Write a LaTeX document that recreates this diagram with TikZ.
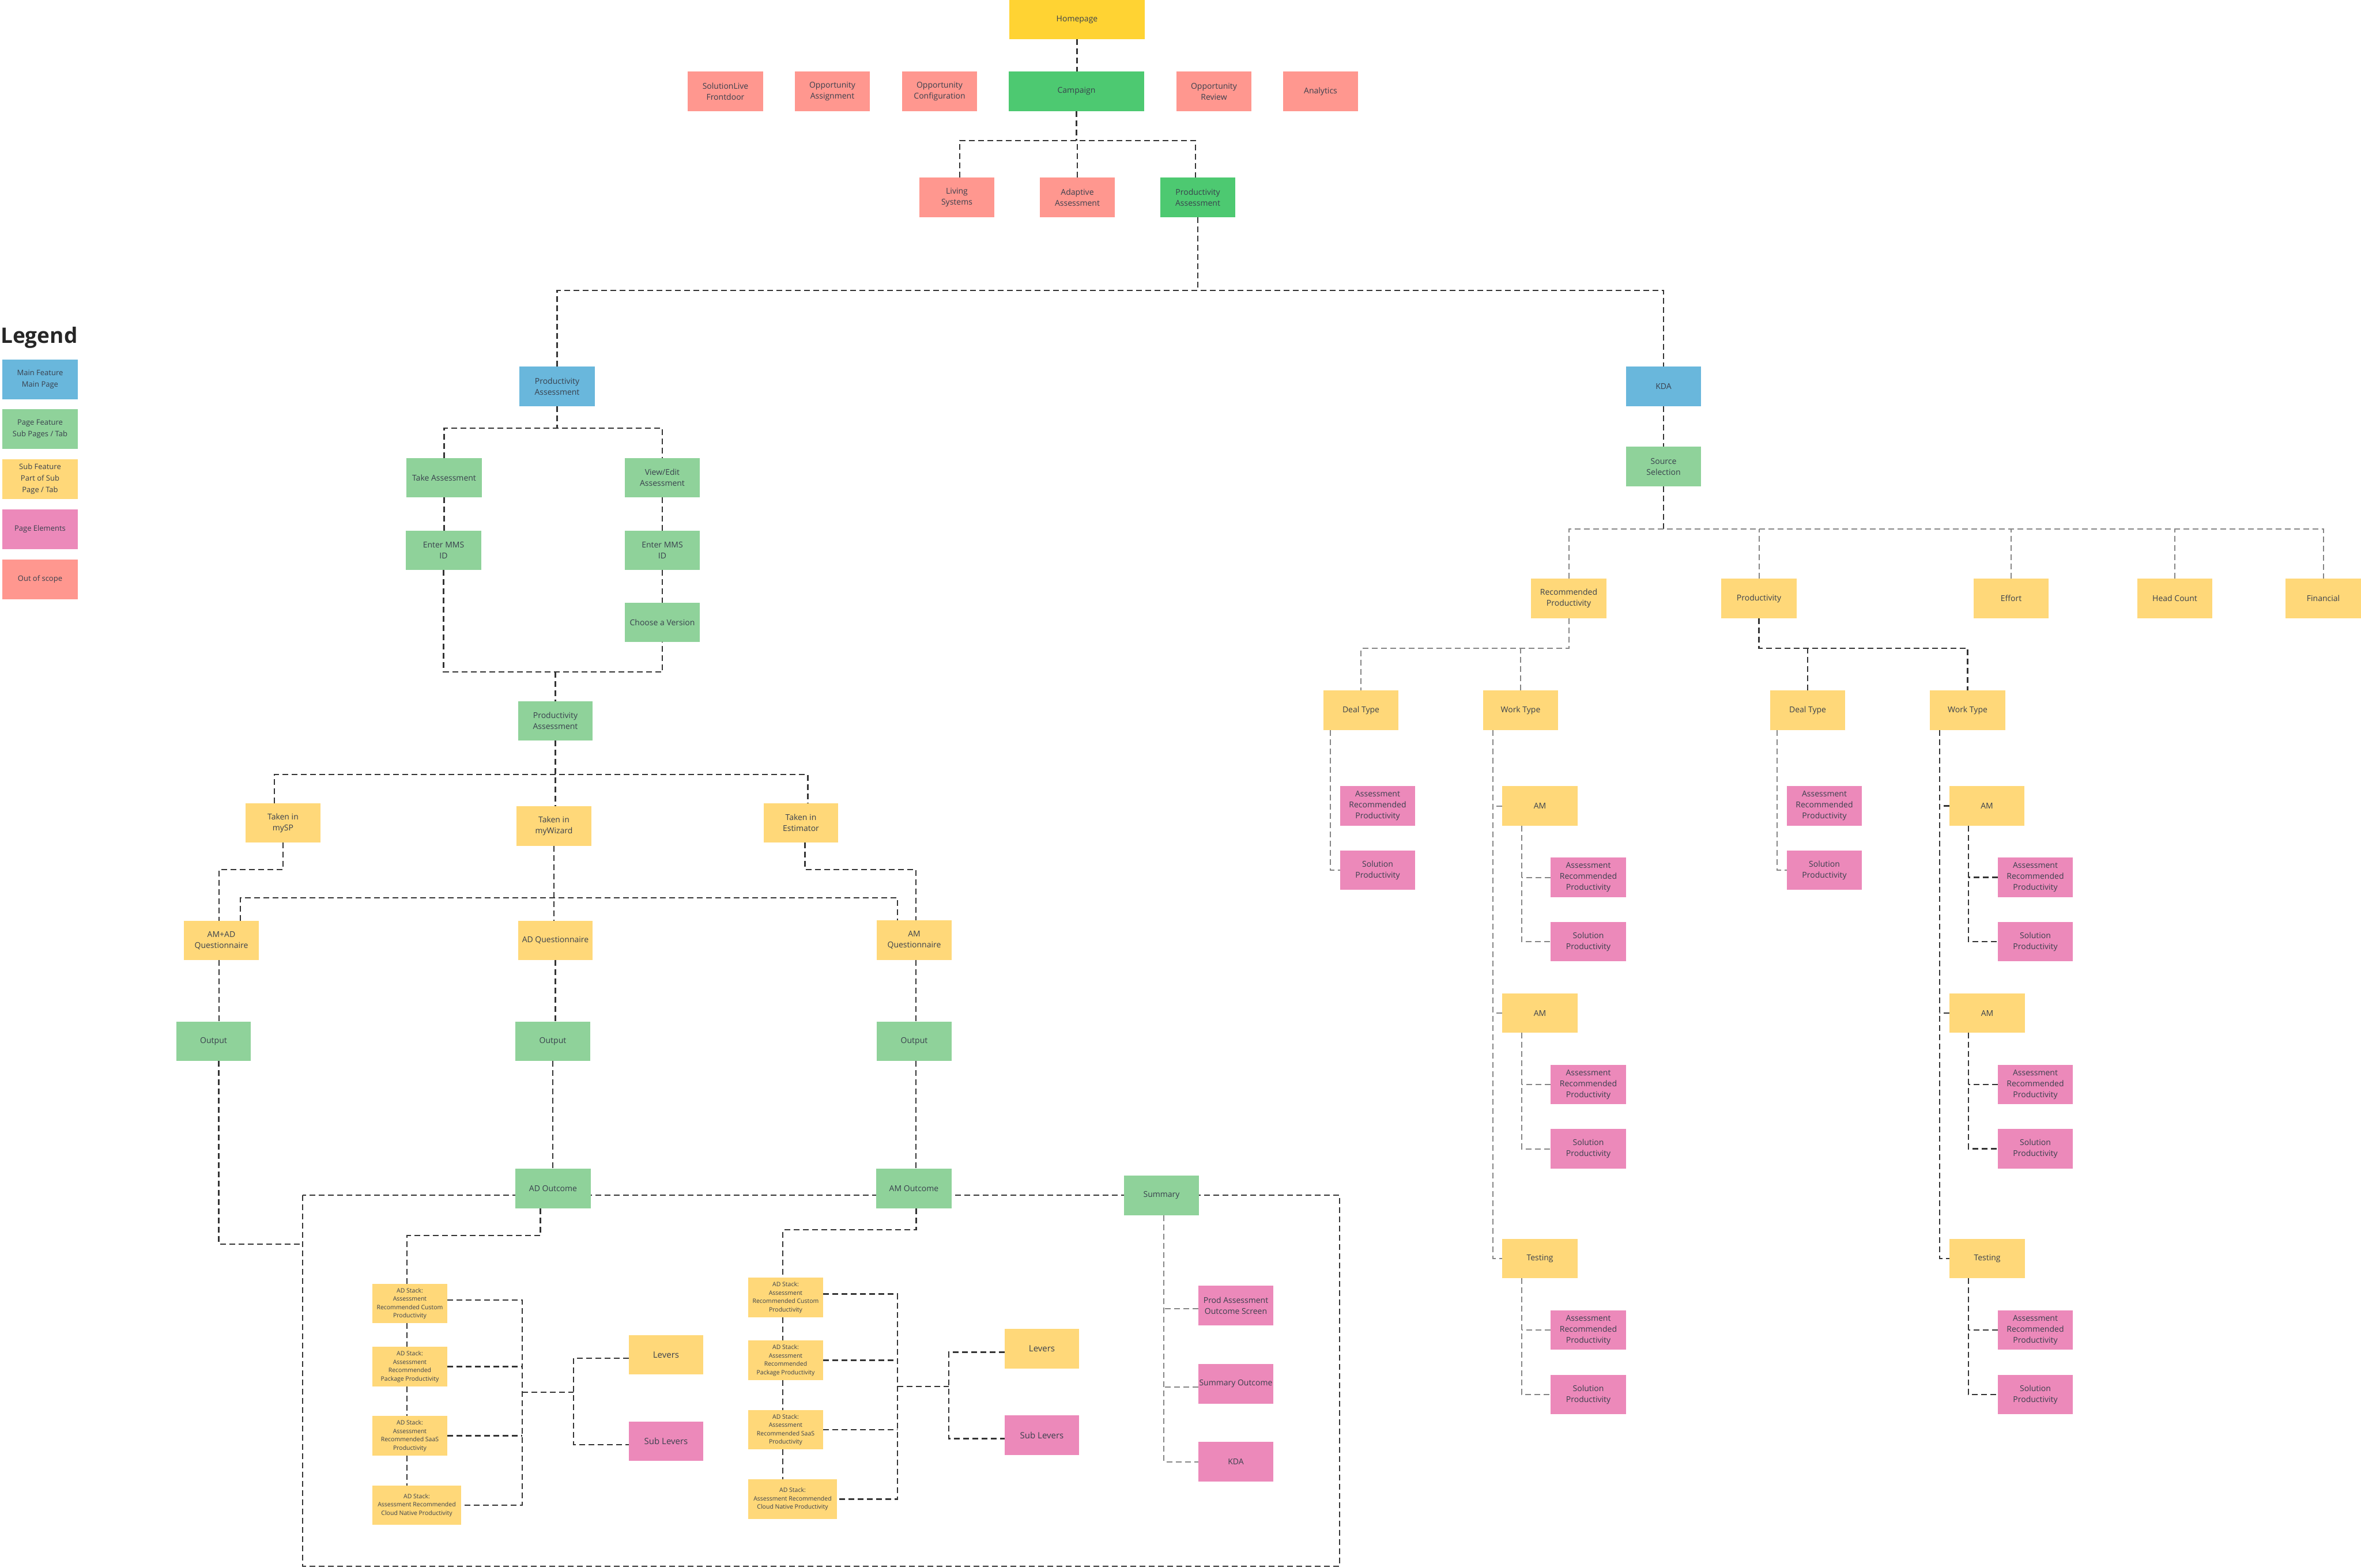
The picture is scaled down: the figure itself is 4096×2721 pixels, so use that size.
\documentclass[tikz,border=0pt]{standalone}
\usepackage{fontspec}
\setmainfont{Open Sans}
\definecolor{txt}{HTML}{39404D}
\definecolor{cHome}{HTML}{FFD333}
\definecolor{cSal}{HTML}{FF978F}
\definecolor{cGrn}{HTML}{4DC971}
\definecolor{cLg}{HTML}{8FD29A}
\definecolor{cBlu}{HTML}{69B7DC}
\definecolor{cYel}{HTML}{FFD879}
\definecolor{cPnk}{HTML}{EC89BA}
\definecolor{lnk}{HTML}{333333}
\definecolor{lgr}{HTML}{858585}
\tikzset{
  box/.style={inner sep=0pt, outer sep=0pt, align=center, text=txt, font=\fontsize{14}{19}\selectfont},
  smtext/.style={font=\fontsize{10.5}{14.5}\selectfont},
  lgtext/.style={font=\fontsize{13}{20}\selectfont},
  bigtext/.style={font=\fontsize{15}{20}\selectfont},
  hom/.style={fill=cHome}, sal/.style={fill=cSal}, grn/.style={fill=cGrn},
  lgr/.style={fill=cLg}, blu/.style={fill=cBlu}, yel/.style={fill=cYel}, pnk/.style={fill=cPnk},
  conn/.style={draw=lnk, line width=2.4pt, dash pattern=on 10pt off 6pt},
  connl/.style={draw=lgr, line width=2pt, dash pattern=on 10pt off 6pt},
}
\newcommand{\bx}[7]{\node[box,#2,minimum width={(#5)-(#3)},minimum height={(#6)-(#4)}] (#1) at ({((#3)+(#5))/2},{((#4)+(#6))/2}) {#7};}
\begin{document}
\begin{tikzpicture}[x=1pt,y=-1pt]
\fill[white] (0,0) rectangle (4096,2721);
\useasboundingbox (0,0) rectangle (4096,2721);
% junction rows
\coordinate (J1) at (0,244);
\coordinate (J2) at (0,504);
\coordinate (J3) at (0,743);
\coordinate (J4) at (0,1166);
\coordinate (J5) at (0,1344);
\coordinate (J6) at (0,1509);
\coordinate (J7) at (0,1558);
\coordinate (J9) at (0,2144);
\coordinate (J10) at (0,2134);
\coordinate (J11) at (0,918);
\coordinate (J12) at (0,1125);
\coordinate (RL) at (525,2159);
\coordinate (RTL) at (525,2074);
\coordinate (RBR) at (2324,2718);
\coordinate (B1) at (906,0);
\coordinate (M1) at (995,2416);
\coordinate (B2) at (1557,0);
\coordinate (M2) at (1646,2406);
% outcome frame
\draw[conn] (RTL) rectangle (RBR);

% legend
\node[anchor=west, inner sep=0pt, text=black!85, font=\fontsize{37}{40}\selectfont\bfseries] (legend) at (1,586) {Legend};
\bx{lg1}{blu,lgtext}{4}{624}{135}{693}{Main Feature\\Main Page}
\bx{lg2}{lgr,lgtext}{4}{710}{135}{779}{Page Feature\\Sub Pages / Tab}
\bx{lg3}{yel,lgtext}{4}{797}{135}{866}{Sub Feature\\Part of Sub\\Page / Tab}
\bx{lg4}{pnk,lgtext}{4}{884}{135}{953}{Page Elements}
\bx{lg5}{sal,lgtext}{4}{971}{135}{1040}{Out of scope}

% top
\bx{home}{hom}{1751}{0}{1986}{68}{Homepage}
\bx{slf}{sal}{1193}{124}{1324}{193}{SolutionLive\\Frontdoor}
\bx{oa}{sal}{1379}{124}{1509}{193}{Opportunity\\Assignment}
\bx{oc}{sal}{1565}{124}{1695}{193}{Opportunity\\Configuration}
\bx{camp}{grn}{1750}{124}{1985}{193}{Campaign}
\bx{orv}{sal}{2041}{124}{2171}{193}{Opportunity\\Review}
\bx{ana}{sal}{2226}{124}{2356}{193}{Analytics}
\bx{ls}{sal}{1595}{308}{1725}{377}{Living\\Systems}
\bx{aa}{sal}{1804}{308}{1934}{377}{Adaptive\\Assessment}
\bx{pa0}{grn}{2013}{308}{2143}{377}{Productivity\\Assessment}

% left tree
\bx{pa1}{blu}{901}{636}{1032}{705}{Productivity\\Assessment}
\bx{take}{lgr}{705}{795}{836}{863}{Take Assessment}
\bx{view}{lgr}{1084}{795}{1214}{863}{View/Edit\\Assessment}
\bx{mms1}{lgr}{704}{921}{835}{989}{Enter MMS\\ID}
\bx{mms2}{lgr}{1084}{921}{1214}{989}{Enter MMS\\ID}
\bx{choose}{lgr}{1084}{1046}{1214}{1114}{Choose a Version}
\bx{pag}{lgr}{899}{1217}{1028}{1285}{Productivity\\Assessment}
\bx{mysp}{yel}{426}{1394}{556}{1462}{Taken in\\mySP}
\bx{wiz}{yel}{896}{1399}{1026}{1468}{Taken in\\myWizard}
\bx{est}{yel}{1325}{1394}{1454}{1462}{Taken in\\Estimator}
\bx{amad}{yel}{319}{1598}{449}{1666}{AM+AD\\Questionnaire}
\bx{adq}{yel}{899}{1598}{1028}{1666}{AD Questionnaire}
\bx{amq}{yel}{1521}{1597}{1651}{1666}{AM\\Questionnaire}
\bx{outL}{lgr}{306}{1773}{435}{1841}{Output}
\bx{outM}{lgr}{894}{1773}{1024}{1841}{Output}
\bx{outR}{lgr}{1521}{1773}{1651}{1841}{Output}
\bx{ado}{lgr}{894}{2028}{1025}{2097}{AD Outcome}
\bx{amo}{lgr}{1520}{2028}{1651}{2097}{AM Outcome}
\bx{sum}{lgr}{1950}{2040}{2080}{2109}{Summary}
\bx{c1}{yel,smtext}{646}{2228}{776}{2296}{AD Stack:\\Assessment\\Recommended Custom\\Productivity}
\bx{p1}{yel,smtext}{646}{2337}{776}{2406}{AD Stack:\\Assessment\\Recommended\\Package Productivity}
\bx{s1}{yel,smtext}{646}{2457}{776}{2526}{AD Stack:\\Assessment\\Recommended SaaS\\Productivity}
\bx{cl1}{yel,smtext}{646}{2578}{800}{2646}{AD Stack:\\Assessment Recommended\\Cloud Native Productivity}
\bx{lev1}{yel,bigtext}{1091}{2317}{1220}{2385}{Levers}
\bx{sub1}{pnk,bigtext}{1091}{2467}{1220}{2535}{Sub Levers}
\bx{c2}{yel,smtext}{1298}{2217}{1428}{2286}{AD Stack:\\Assessment\\Recommended Custom\\Productivity}
\bx{p2}{yel,smtext}{1298}{2326}{1428}{2395}{AD Stack:\\Assessment\\Recommended\\Package Productivity}
\bx{s2}{yel,smtext}{1298}{2447}{1428}{2515}{AD Stack:\\Assessment\\Recommended SaaS\\Productivity}
\bx{cl2}{yel,smtext}{1298}{2567}{1452}{2636}{AD Stack:\\Assessment Recommended\\Cloud Native Productivity}
\bx{lev2}{yel,bigtext}{1743}{2306}{1872}{2375}{Levers}
\bx{sub2}{pnk,bigtext}{1743}{2456}{1872}{2525}{Sub Levers}
\bx{pao}{pnk}{2079}{2231}{2209}{2300}{Prod Assessment\\Outcome Screen}
\bx{so}{pnk}{2079}{2367}{2209}{2436}{Summary Outcome}
\bx{kda2}{pnk}{2079}{2502}{2209}{2571}{KDA}

% right tree
\bx{kda}{blu}{2821}{636}{2951}{705}{KDA}
\bx{ss}{lgr}{2821}{775}{2951}{844}{Source\\Selection}
\bx{rp}{yel}{2656}{1004}{2787}{1073}{Recommended\\Productivity}
\bx{prod}{yel}{2986}{1004}{3117}{1073}{Productivity}
\bx{eff}{yel}{3424}{1004}{3554}{1073}{Effort}
\bx{hc}{yel}{3708}{1004}{3838}{1073}{Head Count}
\bx{fin}{yel}{3965}{1004}{4096}{1073}{Financial}
\bx{dt1}{yel}{2296}{1198}{2426}{1267}{Deal Type}
\bx{wt1}{yel}{2573}{1198}{2703}{1267}{Work Type}
\bx{arpA}{pnk}{2325}{1364}{2455}{1433}{Assessment\\Recommended\\Productivity}
\bx{solA}{pnk}{2325}{1476}{2455}{1544}{Solution\\Productivity}
\bx{am1}{yel}{2606}{1364}{2737}{1433}{AM}
\bx{arpB}{pnk}{2690}{1488}{2821}{1557}{Assessment\\Recommended\\Productivity}
\bx{solB}{pnk}{2690}{1600}{2821}{1668}{Solution\\Productivity}
\bx{am2}{yel}{2606}{1724}{2737}{1792}{AM}
\bx{arpC}{pnk}{2690}{1848}{2821}{1916}{Assessment\\Recommended\\Productivity}
\bx{solC}{pnk}{2690}{1959}{2821}{2028}{Solution\\Productivity}
\bx{test1}{yel}{2606}{2150}{2737}{2218}{Testing}
\bx{arpD}{pnk}{2690}{2274}{2821}{2342}{Assessment\\Recommended\\Productivity}
\bx{solD}{pnk}{2690}{2386}{2821}{2454}{Solution\\Productivity}
\bx{dt2}{yel}{3071}{1198}{3201}{1267}{Deal Type}
\bx{wt2}{yel}{3348}{1198}{3479}{1267}{Work Type}
\bx{arpE}{pnk}{3100}{1364}{3230}{1433}{Assessment\\Recommended\\Productivity}
\bx{solE}{pnk}{3100}{1476}{3230}{1544}{Solution\\Productivity}
\bx{am3}{yel}{3382}{1364}{3512}{1433}{AM}
\bx{arpF}{pnk}{3466}{1488}{3596}{1557}{Assessment\\Recommended\\Productivity}
\bx{solF}{pnk}{3466}{1600}{3596}{1668}{Solution\\Productivity}
\bx{am4}{yel}{3382}{1724}{3513}{1792}{AM}
\bx{arpG}{pnk}{3466}{1848}{3596}{1916}{Assessment\\Recommended\\Productivity}
\bx{solG}{pnk}{3466}{1959}{3596}{2028}{Solution\\Productivity}
\bx{test2}{yel}{3382}{2150}{3513}{2218}{Testing}
\bx{arpH}{pnk}{3466}{2274}{3596}{2342}{Assessment\\Recommended\\Productivity}
\bx{solH}{pnk}{3466}{2386}{3596}{2454}{Solution\\Productivity}

% ---------- connectors ----------
% top
\draw[conn] (home.south) -- (home.south |- camp.north);
\draw[conn] (camp.south) -- (camp.south |- J1);
\draw[conn] ([xshift=5pt]ls.north) |- ([xshift=-4pt]pa0.north |- J1) -- ([xshift=-4pt]pa0.north);
\draw[conn] (aa.north) -- (aa.north |- J1);
\draw[conn] (pa0.south) -- (pa0.south |- J2);
\draw[conn] (pa1.north) |- (kda.north |- J2) -- (kda.north);
% productivity assessment
\draw[conn] (pa1.south) -- (pa1.south |- J3);
\draw[conn] (take.north) |- (view.north |- J3) -- (view.north);
\draw[conn] (take.south) -- (take.south |- mms1.north);
\draw[conn] (view.south) -- (view.south |- mms2.north);
\draw[conn] (mms2.south) -- (mms2.south |- choose.north);
\draw[conn] (mms1.south) |- (choose.south |- J4) -- (choose.south);
\draw[conn] (pag.north |- J4) -- (pag.north);
% taken in
\draw[conn] (pag.south) -- (pag.south |- wiz.north);
\draw[conn] ([xshift=-15pt]mysp.north) |- ([xshift=12pt]est.north |- J5) -- ([xshift=12pt]est.north);
\draw[conn] (mysp.south) |- ([xshift=-4pt]amad.north |- J6) -- ([xshift=-4pt]amad.north);
\draw[conn] ([xshift=7pt]est.south) |- ([xshift=3pt]amq.north |- J6) -- ([xshift=3pt]amq.north);
\draw[conn] (wiz.south) -- (wiz.south |- adq.north);
\draw[conn] ([xshift=33pt]amad.north) |- ([xshift=-29pt]amq.north |- J7) -- ([xshift=-29pt]amq.north);
% outputs
\draw[conn] ([xshift=-4pt]amad.south) -- ([xshift=-4pt]amad.south |- outL.north);
\draw[conn] (adq.south) -- (adq.south |- outM.north);
\draw[conn] ([xshift=3pt]amq.south) -- ([xshift=3pt]amq.south |- outR.north);
\draw[conn] ([xshift=9pt]outL.south) |- (RL);
\draw[conn] (outM.south) -- (outM.south |- ado.north);
\draw[conn] ([xshift=3pt]outR.south) -- ([xshift=3pt]outR.south |- amo.north);
% AD outcome subtree
\draw[conn] ([xshift=-22pt]ado.south) |- ([xshift=-5pt]c1.north |- J9) -- ([xshift=-5pt]c1.north);
\draw[conn] ([xshift=-5pt]c1.south) -- ([xshift=-5pt]c1.south |- p1.north);
\draw[conn] ([xshift=-5pt]p1.south) -- ([xshift=-5pt]p1.south |- s1.north);
\draw[conn] ([xshift=-5pt]s1.south) -- ([xshift=-5pt]s1.south |- cl1.north);
\draw[conn] ([yshift=6pt]c1.east) -| (B1 |- cl1.east) -- (cl1.east);
\draw[conn] (p1.east) -- (p1.east -| B1);
\draw[conn] (s1.east) -- (s1.east -| B1);
\draw[conn] (B1 |- M1) -- (M1);
\draw[conn] ([yshift=-6pt]lev1.west) -| (M1) |- ([yshift=-6pt]sub1.west);
% AM outcome subtree
\draw[conn] ([xshift=4pt]amo.south) |- ([xshift=-5pt]c2.north |- J10) -- ([xshift=-5pt]c2.north);
\draw[conn] ([xshift=-5pt]c2.south) -- ([xshift=-5pt]c2.south |- p2.north);
\draw[conn] ([xshift=-5pt]p2.south) -- ([xshift=-5pt]p2.south |- s2.north);
\draw[conn] ([xshift=-5pt]s2.south) -- ([xshift=-5pt]s2.south |- cl2.north);
\draw[conn] ([yshift=6pt]c2.east) -| (B2 |- cl2.east) -- (cl2.east);
\draw[conn] (p2.east) -- (p2.east -| B2);
\draw[conn] (s2.east) -- (s2.east -| B2);
\draw[conn] (B2 |- M2) -- (M2);
\draw[conn] ([yshift=-6pt]lev2.west) -| (M2) |- ([yshift=-6pt]sub2.west);
% summary
\coordinate (SL) at ([xshift=4pt]sum.south);
\draw[connl] (SL) |- (kda2.west);
\draw[connl] ([yshift=-5pt]pao.west) -- ([yshift=-5pt]pao.west -| SL);
\draw[connl] ([yshift=-5pt]so.west) -- ([yshift=-5pt]so.west -| SL);
% KDA
\draw[conn] (kda.south) -- (kda.south |- ss.north);
\draw[conn] (ss.south) -- (ss.south |- J11);
\draw[connl] (rp.north) |- (fin.north |- J11) -- (fin.north);
\draw[connl] (prod.north) -- (prod.north |- J11);
\draw[connl] (eff.north) -- (eff.north |- J11);
\draw[connl] (hc.north) -- (hc.north |- J11);
% recommended productivity subtree
\draw[connl] (rp.south) |- (dt1.north |- J12) -- (dt1.north);
\draw[connl] (wt1.north) -- (wt1.north |- J12);
\draw[connl] ([xshift=12pt]dt1.south west) |- (solA.west);
\coordinate (WL1) at ([xshift=17pt]wt1.south west);
\draw[connl] (WL1) |- (test1.west);
\draw[connl] (am1.west) -- (am1.west -| WL1);
\draw[connl] (am2.west) -- (am2.west -| WL1);
\coordinate (AL1) at ([xshift=34pt]am1.south west);
\draw[connl] (AL1) |- (solB.west);
\draw[connl] (arpB.west) -- (arpB.west -| AL1);
\coordinate (AL2) at ([xshift=34pt]am2.south west);
\draw[connl] (AL2) |- (solC.west);
\draw[connl] (arpC.west) -- (arpC.west -| AL2);
\coordinate (TL1) at ([xshift=34pt]test1.south west);
\draw[connl] (TL1) |- (solD.west);
\draw[connl] (arpD.west) -- (arpD.west -| TL1);
% productivity subtree
\draw[conn] (prod.south) |- (wt2.north |- J12) -- (wt2.north);
\draw[conn] (dt2.north) -- (dt2.north |- J12);
\draw[connl] ([xshift=12pt]dt2.south west) |- (solE.west);
\coordinate (WL2) at ([xshift=17pt]wt2.south west);
\draw[conn] (WL2) |- (test2.west);
\draw[conn] (am3.west) -- (am3.west -| WL2);
\draw[conn] (am4.west) -- (am4.west -| WL2);
\coordinate (AL3) at ([xshift=33pt]am3.south west);
\draw[conn] (AL3) |- (solF.west);
\draw[conn] (arpF.west) -- (arpF.west -| AL3);
\coordinate (AL4) at ([xshift=33pt]am4.south west);
\draw[conn] (AL4) |- (solG.west);
\draw[conn] (arpG.west) -- (arpG.west -| AL4);
\coordinate (TL2) at ([xshift=33pt]test2.south west);
\draw[conn] (TL2) |- (solH.west);
\draw[conn] (arpH.west) -- (arpH.west -| TL2);
\end{tikzpicture}
\end{document}
